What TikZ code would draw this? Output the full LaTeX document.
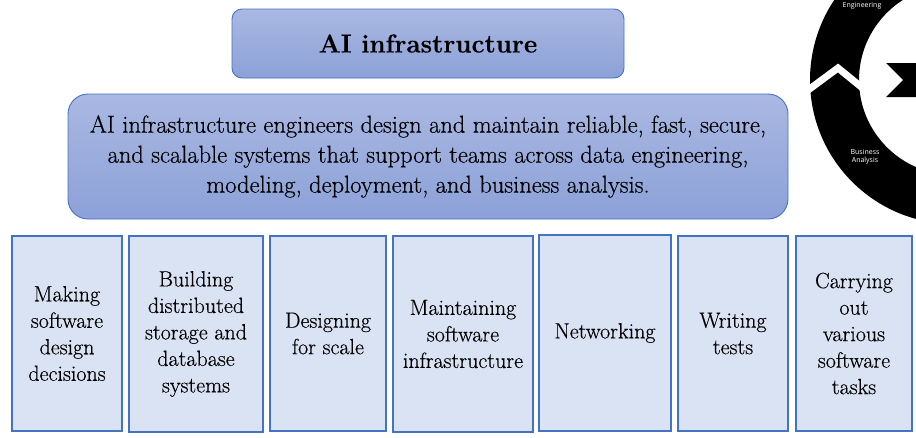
\documentclass[tikz,border=0pt]{standalone}
\usepackage{fontspec}
\setmainfont{Latin Modern Roman}[FakeBold=0.35]
\newfontfamily\cyclesans{Open Sans}
\definecolor{topblue}{RGB}{170,184,226}
\definecolor{botblue}{RGB}{140,161,216}
\definecolor{edgeblue}{RGB}{68,114,196}
\definecolor{lightfill}{RGB}{218,227,243}
\tikzset{
  headbox/.style={draw=edgeblue, line width=0.9pt, top color=topblue, bottom color=botblue, inner sep=0pt, align=center},
  taskbox/.style={draw=edgeblue, line width=1.6pt, fill=lightfill, inner sep=0pt, align=center, font=\rmfamily\fontsize{22}{26.5}\selectfont},
  ringlabel/.style={text=white, align=center, inner sep=0pt, font=\cyclesans\fontsize{7}{9.5}\selectfont}
}
\begin{document}
\begin{tikzpicture}[x=1pt,y=-1pt]
\useasboundingbox (0,0) rectangle (916,437);
% cropped cycle graphic at top right
\begin{scope}
  \clip (0,0) rectangle (916,437);
  \fill[black, even odd rule] (954,80) circle[radius=144] (954,80) circle[radius=95];
  \draw[white, line width=7pt, miter limit=10] (796,99) -- (838,68) -- (876,99);
  \fill[black] (886,63) -- (930,63) -- (930,97) -- (886,97) -- (903,80) -- cycle;
  \node[ringlabel] (eng) at (862,6) {Engineering};
  \node[ringlabel] (ba) at (865,157) {Business\\[-1pt]Analysis};
\end{scope}
% header boxes
\node[headbox, rounded corners=10pt, minimum width=392pt, minimum height=69pt,
      font=\rmfamily\fontsize{25.9}{30}\selectfont\bfseries] (title) at (428,43.5) {AI infrastructure};
\node[headbox, rounded corners=20pt, minimum width=720pt, minimum height=125pt,
      font=\rmfamily\fontsize{24.5}{30}\selectfont] (desc) at (428,156.5)
  {AI infrastructure engineers design and maintain reliable, fast, secure,\\
   and scalable systems that support teams across data engineering,\\
   modeling, deployment, and business analysis.};
% task boxes
\node[taskbox, minimum width=110pt, minimum height=195pt] (t1) at (67,333.5) {Making\\software\\design\\decisions};
\node[taskbox, minimum width=134pt, minimum height=196pt] (t2) at (196,334) {Building\\distributed\\storage and\\database\\systems};
\node[taskbox, minimum width=116pt, minimum height=195pt] (t3) at (328,333.5) {Designing\\for scale};
\node[taskbox, minimum width=140pt, minimum height=196pt] (t4) at (463,334) {Maintaining\\software\\infrastructure};
\node[taskbox, minimum width=132pt, minimum height=196pt] (t5) at (605,333) {Networking};
\node[taskbox, minimum width=110pt, minimum height=195pt] (t6) at (733,333.5) {Writing\\tests};
\node[taskbox, minimum width=116pt, minimum height=195pt] (t7) at (854,333.5) {Carrying\\out\\various\\software\\tasks};
\end{tikzpicture}
\end{document}
